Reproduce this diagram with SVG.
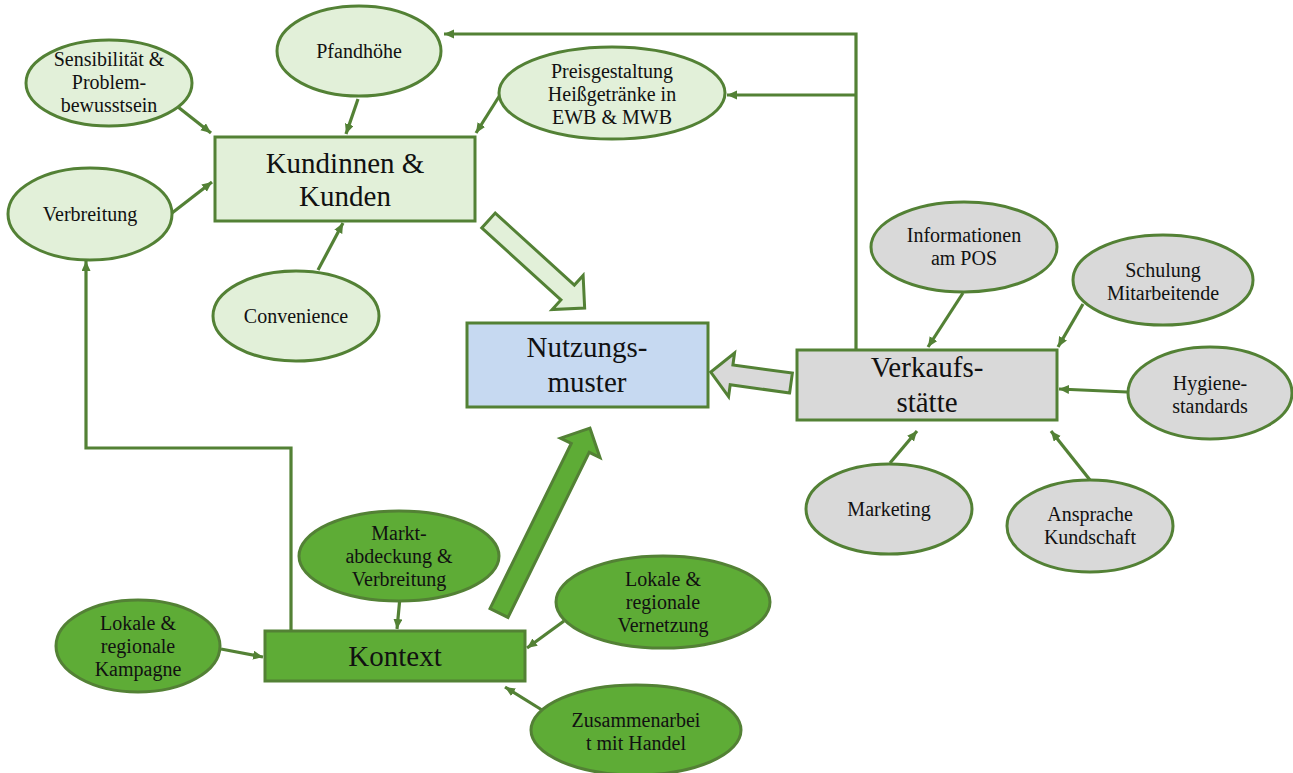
<svg xmlns="http://www.w3.org/2000/svg" width="1293" height="773" viewBox="0 0 1293 773">
<defs>
<style>
.lg{fill:#E2F0D9;stroke:#538135;stroke-width:3}
.gr{fill:#D9D9D9;stroke:#538135;stroke-width:3}
.dg{fill:#5EAC36;stroke:#538135;stroke-width:3}
.bl{fill:#C6D9F1;stroke:#538135;stroke-width:3}
.t{font-family:"Liberation Serif","Times New Roman",serif;font-size:20px;fill:#111;text-anchor:middle}
.T{font-family:"Liberation Serif","Times New Roman",serif;font-size:29px;fill:#111;text-anchor:middle}
.c{fill:none;stroke:#538135;stroke-width:3.2}
.ba{stroke:#538135;stroke-width:3;stroke-linejoin:miter}
</style>
<marker id="ah" markerUnits="userSpaceOnUse" markerWidth="12" markerHeight="10" refX="10" refY="4.5" orient="auto">
<path d="M0,0 L10,4.5 L0,9 Z" fill="#538135"/>
</marker>
</defs>

<g id="connectors">
<line class="c" x1="178" y1="107" x2="211" y2="133" marker-end="url(#ah)"/>
<line class="c" x1="358" y1="99" x2="346" y2="134" marker-end="url(#ah)"/>
<line class="c" x1="500" y1="95" x2="476" y2="133" marker-end="url(#ah)"/>
<line class="c" x1="172" y1="213" x2="212" y2="182" marker-end="url(#ah)"/>
<line class="c" x1="318" y1="270" x2="343" y2="223" marker-end="url(#ah)"/>
<polyline class="c" points="856,350 856,34 444,34" marker-end="url(#ah)"/>
<polyline class="c" points="856,95 727,95" marker-end="url(#ah)"/>
<polyline class="c" points="291,631 291,448 86,448 86,261" marker-end="url(#ah)"/>
<line class="c" x1="400" y1="597" x2="397" y2="629" marker-end="url(#ah)"/>
<line class="c" x1="221" y1="649" x2="263" y2="657" marker-end="url(#ah)"/>
<line class="c" x1="564" y1="621" x2="527" y2="648" marker-end="url(#ah)"/>
<line class="c" x1="542" y1="710" x2="505" y2="687" marker-end="url(#ah)"/>
<line class="c" x1="963" y1="293" x2="928" y2="347" marker-end="url(#ah)"/>
<line class="c" x1="1083" y1="304" x2="1058" y2="347" marker-end="url(#ah)"/>
<line class="c" x1="1127" y1="392" x2="1059" y2="389" marker-end="url(#ah)"/>
<line class="c" x1="890" y1="463" x2="917" y2="431" marker-end="url(#ah)"/>
<line class="c" x1="1090" y1="480" x2="1051" y2="431" marker-end="url(#ah)"/>
</g>

<g id="block-arrows">
<path class="ba" fill="#E2F0D9" transform="translate(488.5,220.5) rotate(42.3)" d="M0,-10 L107,-10 L107,-23 L130,0 L107,23 L107,10 L0,10 Z"/>
<path class="ba" fill="#D9D9D9" transform="translate(791,383) rotate(187.8)" d="M0,-10 L60,-10 L60,-22 L81,0 L60,22 L60,10 L0,10 Z"/>
<path class="ba" fill="#5EAC36" transform="translate(499,613) rotate(-63.8)" d="M0,-10 L184,-10 L184,-22 L206,0 L184,22 L184,10 L0,10 Z"/>
</g>

<g id="kunden">
<rect class="lg" x="215" y="137" width="260" height="84"/>
<text class="T" x="345" y="173">Kundinnen &amp;</text>
<text class="T" x="345" y="206">Kunden</text>
</g>
<g id="nutzungsmuster">
<rect class="bl" x="467" y="323" width="241" height="84"/>
<text class="T" x="587" y="357">Nutzungs-</text>
<text class="T" x="587" y="392">muster</text>
</g>
<g id="verkaufsstaette">
<rect class="gr" x="797" y="350" width="260" height="70"/>
<text class="T" x="927" y="377">Verkaufs-</text>
<text class="T" x="927" y="412">stätte</text>
</g>
<g id="kontext">
<rect class="dg" x="265" y="631" width="260" height="50"/>
<text class="T" x="395" y="666">Kontext</text>
</g>

<g id="sensibilitaet">
<ellipse class="lg" cx="109" cy="83" rx="83" ry="43"/>
<text class="t" x="109" y="66">Sensibilität &amp;</text>
<text class="t" x="109" y="89">Problem-</text>
<text class="t" x="109" y="112">bewusstsein</text>
</g>
<g id="pfandhoehe">
<ellipse class="lg" cx="359" cy="51" rx="82" ry="45"/>
<text class="t" x="359" y="58">Pfandhöhe</text>
</g>
<g id="preisgestaltung">
<ellipse class="lg" cx="612" cy="93" rx="113" ry="46"/>
<text class="t" x="612" y="78">Preisgestaltung</text>
<text class="t" x="612" y="101">Heißgetränke in</text>
<text class="t" x="612" y="124">EWB &amp; MWB</text>
</g>
<g id="verbreitung">
<ellipse class="lg" cx="90" cy="214" rx="82" ry="46"/>
<text class="t" x="90" y="221">Verbreitung</text>
</g>
<g id="convenience">
<ellipse class="lg" cx="296" cy="316" rx="83" ry="45"/>
<text class="t" x="296" y="323">Convenience</text>
</g>

<g id="informationen">
<ellipse class="gr" cx="964" cy="247" rx="93" ry="45"/>
<text class="t" x="964" y="242">Informationen</text>
<text class="t" x="964" y="265">am POS</text>
</g>
<g id="schulung">
<ellipse class="gr" cx="1163" cy="280" rx="90" ry="45"/>
<text class="t" x="1163" y="277">Schulung</text>
<text class="t" x="1163" y="300">Mitarbeitende</text>
</g>
<g id="hygiene">
<ellipse class="gr" cx="1210" cy="393" rx="82" ry="46"/>
<text class="t" x="1210" y="390">Hygiene-</text>
<text class="t" x="1210" y="413">standards</text>
</g>
<g id="marketing">
<ellipse class="gr" cx="889" cy="509" rx="83" ry="45"/>
<text class="t" x="889" y="516">Marketing</text>
</g>
<g id="ansprache">
<ellipse class="gr" cx="1090" cy="526" rx="83" ry="46"/>
<text class="t" x="1090" y="521">Ansprache</text>
<text class="t" x="1090" y="544">Kundschaft</text>
</g>

<g id="marktabdeckung">
<ellipse class="dg" cx="399" cy="556" rx="100" ry="45"/>
<text class="t" x="399" y="540">Markt-</text>
<text class="t" x="399" y="563">abdeckung &amp;</text>
<text class="t" x="399" y="586">Verbreitung</text>
</g>
<g id="kampagne">
<ellipse class="dg" cx="138" cy="646" rx="82" ry="46"/>
<text class="t" x="138" y="630">Lokale &amp;</text>
<text class="t" x="138" y="653">regionale</text>
<text class="t" x="138" y="676">Kampagne</text>
</g>
<g id="vernetzung">
<ellipse class="dg" cx="663" cy="602" rx="107" ry="46"/>
<text class="t" x="663" y="586">Lokale &amp;</text>
<text class="t" x="663" y="609">regionale</text>
<text class="t" x="663" y="632">Vernetzung</text>
</g>
<g id="zusammenarbeit">
<ellipse class="dg" cx="636" cy="730" rx="105" ry="45"/>
<text class="t" x="636" y="727">Zusammenarbei</text>
<text class="t" x="636" y="750">t mit Handel</text>
</g>
</svg>
